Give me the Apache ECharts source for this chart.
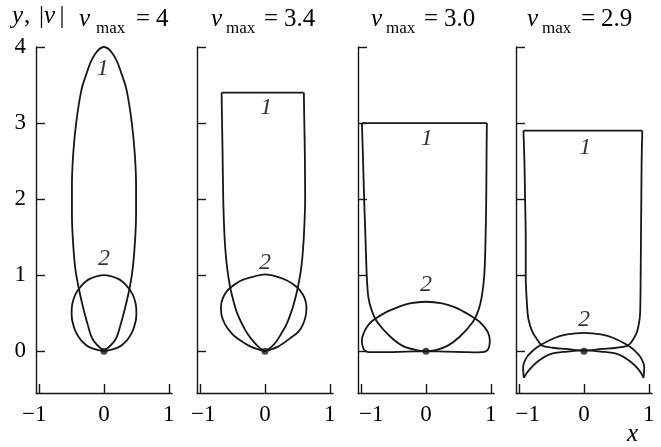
<!DOCTYPE html>
<html>
<head>
<meta charset="utf-8">
<script src="https://cdn.jsdelivr.net/npm/echarts@6/dist/echarts.min.js"></script>
<style>
  html, body { margin: 0; padding: 0; background: #fff; }
  #chart { width: 661px; height: 447px; }
</style>
</head>
<body>
<div id="chart"></div>
<script>
// ---- axis ticks and panel captions ----
const xTicks = [-1, 0, 1];
const yTicks = [0, 1, 2, 3, 4];
const vmaxLabels = ['4', '3.4', '3.0', '2.9'];
const curveNames = ['1', '2'];

// ---- v_max = 4 ----
const loop1_v4 = [
  [0, 0], [0.175, 0.15], [0.26, 0.36], [0.335, 0.6], [0.40, 0.85], [0.445, 1.1],
  [0.48, 1.46], [0.495, 1.8], [0.495, 2.2], [0.475, 2.6], [0.43, 3.0],
  [0.35, 3.43], [0.27, 3.65], [0.19, 3.83], [0.10, 3.95], [0, 4.0],
  [-0.10, 3.95], [-0.19, 3.83], [-0.27, 3.65], [-0.35, 3.43], [-0.43, 3.0],
  [-0.475, 2.6], [-0.495, 2.2], [-0.495, 1.8], [-0.48, 1.46], [-0.445, 1.1],
  [-0.395, 0.85], [-0.33, 0.6], [-0.255, 0.36], [-0.17, 0.15], [0, 0]
];
const loop2_v4 = [
  [0, 0], [0.22, 0.05], [0.35, 0.14], [0.44, 0.26], [0.49, 0.40], [0.50, 0.50],
  [0.49, 0.62], [0.44, 0.75], [0.35, 0.86], [0.22, 0.95], [0, 1.0],
  [-0.22, 0.95], [-0.35, 0.86], [-0.44, 0.75], [-0.49, 0.62], [-0.50, 0.50],
  [-0.49, 0.40], [-0.44, 0.26], [-0.35, 0.14], [-0.22, 0.05], [0, 0]
];

// ---- v_max = 3.4 ----
const side1_v34 = [
  [-0.67, 3.4], [-0.665, 3.1], [-0.655, 2.6], [-0.645, 2.0], [-0.63, 1.6],
  [-0.615, 1.37], [-0.585, 1.1], [-0.54, 0.85], [-0.49, 0.67], [-0.43, 0.50],
  [-0.35, 0.35], [-0.27, 0.23], [-0.17, 0.12], [-0.09, 0.05], [0, 0],
  [0.09, 0.05], [0.17, 0.12], [0.25, 0.23], [0.33, 0.35], [0.40, 0.50],
  [0.46, 0.67], [0.51, 0.85], [0.56, 1.1], [0.59, 1.37], [0.61, 1.7],
  [0.62, 2.0], [0.615, 2.6], [0.605, 3.1], [0.60, 3.4]
];
const top1_v34 = [[-0.67, 3.4], [0.60, 3.4]];
const loop2_v34 = [
  [0, 0], [0.20, 0.06], [0.42, 0.19], [0.52, 0.26], [0.59, 0.36], [0.63, 0.47],
  [0.64, 0.58], [0.61, 0.70], [0.54, 0.80], [0.45, 0.87], [0.34, 0.93],
  [0.18, 0.98], [0, 1.01], [-0.18, 0.98], [-0.37, 0.93], [-0.48, 0.87],
  [-0.58, 0.80], [-0.65, 0.70], [-0.68, 0.58], [-0.67, 0.47], [-0.62, 0.36],
  [-0.55, 0.27], [-0.46, 0.19], [-0.22, 0.06], [0, 0]
];

// ---- v_max = 3.0 ----
const side1_v30 = [
  [-0.99, 3.0], [-0.975, 2.6], [-0.955, 2.0], [-0.935, 1.5], [-0.915, 1.0],
  [-0.89, 0.71], [-0.84, 0.54], [-0.75, 0.38], [-0.55, 0.19], [-0.36, 0.07],
  [-0.15, 0.015], [0, 0], [0.15, 0.015], [0.33, 0.07], [0.52, 0.19],
  [0.72, 0.38], [0.81, 0.54], [0.86, 0.71], [0.90, 1.0], [0.92, 1.5],
  [0.93, 2.0], [0.935, 2.6], [0.94, 3.0]
];
const top1_v30 = [[-0.99, 3.0], [0.94, 3.0]];
const loop2_v30 = [
  [0, 0], [0.3, -0.005], [0.6, -0.012], [0.8, -0.015], [0.9, -0.01],
  [0.955, 0.02], [0.98, 0.08], [0.985, 0.145], [0.96, 0.24], [0.90, 0.32],
  [0.82, 0.39], [0.72, 0.45], [0.58, 0.52], [0.44, 0.58], [0.25, 0.63],
  [0, 0.65], [-0.25, 0.63], [-0.43, 0.58], [-0.60, 0.52], [-0.74, 0.45],
  [-0.84, 0.39], [-0.91, 0.32], [-0.965, 0.23], [-0.99, 0.145], [-0.98, 0.07],
  [-0.95, 0.01], [-0.88, -0.012], [-0.6, -0.012], [-0.3, -0.005], [0, 0]
];

// ---- v_max = 2.9 ----
const side1_v29 = [
  [-0.935, 2.9], [-0.92, 2.5], [-0.91, 2.0], [-0.90, 1.5], [-0.90, 1.0],
  [-0.88, 0.61], [-0.86, 0.43], [-0.80, 0.26], [-0.72, 0.15], [-0.65, 0.075],
  [-0.485, 0.045], [-0.28, 0.03], [0, 0.01], [0.28, 0.03], [0.5, 0.045],
  [0.68, 0.075], [0.755, 0.15], [0.82, 0.26], [0.86, 0.43], [0.87, 0.61],
  [0.875, 1.0], [0.88, 1.5], [0.885, 2.0], [0.89, 2.5], [0.90, 2.9]
];
const top1_v29 = [[-0.935, 2.9], [0.90, 2.9]];
const upper2_v29 = [
  [-0.93, -0.35], [-0.94, -0.21], [-0.88, -0.075], [-0.78, 0.013], [-0.67, 0.08],
  [-0.465, 0.17], [-0.26, 0.22], [0, 0.24], [0.26, 0.22], [0.465, 0.17],
  [0.67, 0.08], [0.775, 0.013], [0.87, -0.075], [0.93, -0.21], [0.92, -0.35]
];
const lower2_v29 = [
  [-0.93, -0.35], [-0.85, -0.25], [-0.72, -0.14], [-0.52, -0.04], [-0.26, -0.005],
  [0, 0.01], [0.26, -0.005], [0.52, -0.04], [0.72, -0.14], [0.85, -0.25], [0.92, -0.35]
];

const originPoint = [[0, 0]];

// curve-number placement (data coordinates) for each panel
const numberAnchors = [
  [[-0.02, 3.71], [0, 1.21]],
  [[0.02, 3.2], [0, 1.16]],
  [[0.01, 2.79], [0, 0.87]],
  [[0.02, 2.67], [0, 0.41]]
];

// ---- layout ----
const INK = '#161616';
const SERIF = 'Liberation Serif';
const gridLefts = [36, 197, 358, 516];
const gridWidth = 136;
const minusShift = [[0, 10, 0, 0], [0, 0, 0, 6], [0, 0, 0, 20], [0, 0, 0, 17]];

const panels = [
  { smooth: [loop1_v4, loop2_v4], straight: [] },
  { smooth: [side1_v34, loop2_v34], straight: [top1_v34] },
  { smooth: [side1_v30, loop2_v30], straight: [top1_v30] },
  { smooth: [side1_v29, upper2_v29, lower2_v29], straight: [top1_v29] }
];

const grids = [], xAxes = [], yAxes = [], series = [];

panels.forEach((p, i) => {
  grids.push({ left: gridLefts[i], width: gridWidth, top: 47, height: 346 });
  xAxes.push({
    type: 'value', gridIndex: i, min: -1.05, max: 1.05,
    axisLine: { show: true, onZero: false, lineStyle: { color: INK, width: 1.4 } },
    axisTick: { show: true, inside: true, length: 9, customValues: xTicks,
                lineStyle: { color: INK, width: 1.4 } },
    axisLabel: {
      show: true, customValues: xTicks, margin: 10,
      color: '#000', fontFamily: SERIF, fontSize: 23,
      formatter: v => v < 0 ? '{m|\u2212' + Math.abs(v) + '}' : String(v),
      rich: { m: { fontFamily: SERIF, fontSize: 23, color: '#000', padding: minusShift[i] } }
    },
    splitLine: { show: false }
  });
  yAxes.push({
    type: 'value', gridIndex: i, min: -0.55, max: 4,
    axisLine: { show: true, onZero: false, lineStyle: { color: INK, width: 1.4 } },
    axisTick: { show: true, inside: true, length: 9, customValues: yTicks,
                lineStyle: { color: INK, width: 1.4 } },
    axisLabel: {
      show: i === 0, customValues: yTicks, margin: 10,
      color: '#000', fontFamily: SERIF, fontSize: 23
    },
    splitLine: { show: false }
  });

  p.smooth.forEach(d => series.push({
    type: 'line', xAxisIndex: i, yAxisIndex: i, data: d, smooth: 0.35,
    showSymbol: false, silent: true, clip: false,
    lineStyle: { color: INK, width: 1.8 }
  }));
  p.straight.forEach(d => series.push({
    type: 'line', xAxisIndex: i, yAxisIndex: i, data: d,
    showSymbol: false, silent: true, clip: false,
    lineStyle: { color: INK, width: 1.8 }
  }));
  series.push({
    type: 'scatter', xAxisIndex: i, yAxisIndex: i, data: originPoint,
    symbolSize: 7, itemStyle: { color: INK }, silent: true, z: 5
  });
  series.push({
    type: 'scatter', xAxisIndex: i, yAxisIndex: i, symbolSize: 0, silent: true,
    data: numberAnchors[i].map((c, k) => ({ value: c, name: curveNames[k] })),
    label: {
      show: true, position: 'inside', formatter: q => q.name,
      fontFamily: SERIF, fontStyle: 'italic', fontSize: 24, color: '#000'
    }
  });
});

// panel captions "v_max = ..." and axis names
const captionLefts = [
  [79, 96, 136, 156], [211, 226, 264, 284],
  [371, 386, 424, 444], [527, 542, 581, 601]
];
const graphics = [];
function txt(x, y, text, size, italic) {
  return {
    type: 'text', x: x, y: y, silent: true,
    style: { text: text, fontFamily: SERIF, fontSize: size,
             fontStyle: italic ? 'italic' : 'normal', fill: '#000',
             align: 'left', verticalAlign: 'middle' }
  };
}
vmaxLabels.forEach((lab, i) => {
  const c = captionLefts[i];
  graphics.push(txt(c[0], 19.6, 'v', 25, true));
  graphics.push(txt(c[1], 28.3, 'max', 17, false));
  graphics.push(txt(c[2], 19.6, '=', 25, false));
  graphics.push(txt(c[3], 19.6, lab, 25, false));
});
graphics.push(txt(12, 16.6, 'y', 25, true));
graphics.push(txt(24, 16.6, ',', 25, false));
graphics.push(txt(39, 16.6, '|', 25, false));
graphics.push(txt(44, 16.6, 'v', 25, true));
graphics.push(txt(59.5, 16.6, '|', 25, false));
graphics.push(txt(627, 434.6, 'x', 25, true));

const chart = echarts.init(document.getElementById('chart'), null, { renderer: 'canvas' });
chart.setOption({
  animation: false,
  backgroundColor: '#fff',
  grid: grids,
  xAxis: xAxes,
  yAxis: yAxes,
  series: series,
  graphic: graphics
});
</script>
</body>
</html>
